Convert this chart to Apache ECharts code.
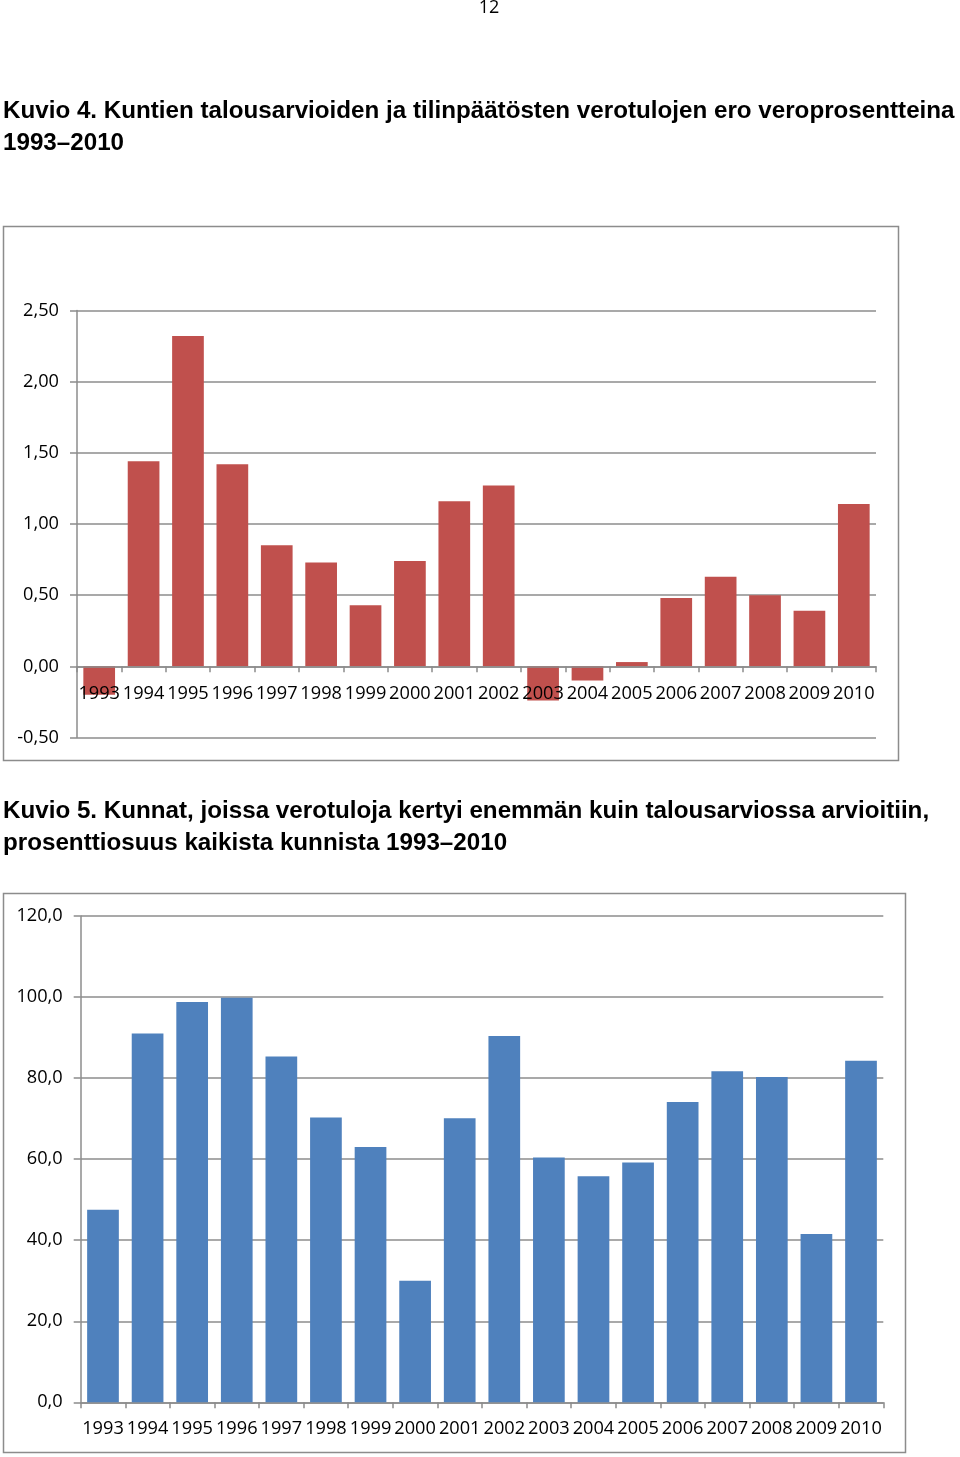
<!DOCTYPE html>
<html>
<head>
<meta charset="utf-8">
<script src="https://cdn.jsdelivr.net/npm/echarts@6/dist/echarts.min.js"></script>
<style>
html,body{margin:0;padding:0;background:#fff;}
#c{width:960px;height:1457px;}
</style>
</head>
<body>
<div id="c"></div>
<script>
const years = ['1993','1994','1995','1996','1997','1998','1999','2000','2001','2002','2003','2004','2005','2006','2007','2008','2009','2010'];
const diffValues = [-0.20,1.44,2.32,1.42,0.85,0.73,0.43,0.74,1.16,1.27,-0.24,-0.10,0.03,0.48,0.63,0.50,0.39,1.14];
const shareValues = [47.5,91.0,98.8,99.8,85.3,70.3,63.0,30.0,70.1,90.4,60.4,55.8,59.2,74.1,81.7,80.3,41.5,84.3];
const title1 = ['Kuvio 4. Kuntien talousarvioiden ja tilinpäätösten verotulojen ero veroprosentteina', '1993–2010'];
const title2 = ['Kuvio 5. Kunnat, joissa verotuloja kertyi enemmän kuin talousarviossa arvioitiin,', 'prosenttiosuus kaikista kunnista 1993–2010'];
const pageNumber = '12';

const GRAY = '#8c8c8c';
const LBL = {color:'#000', fontFamily:'Open Sans', fontSize:18.2};
const TFONT = 'bold 24.2px "Liberation Sans", Arial, sans-serif';

const y1Min = -0.5, y1Max = 2.5, grid1H = 427;
const zeroOffset1 = -(0 - y1Min) / (y1Max - y1Min) * grid1H;

const chart = echarts.init(document.getElementById('c'));

function txt(t, x, y, font, align){
  return {type:'text', x:x, y:y, silent:true,
    style:{text:t, font:font, fill:'#000', align:align||'left', verticalAlign:'middle'}};
}

const option = {
  animation:false,
  backgroundColor:'#fff',
  graphic:[
    txt(pageNumber, 489, 8, '18px "Open Sans", sans-serif', 'center'),
    txt(title1[0], 3, 111, TFONT),
    txt(title1[1], 3, 143, TFONT),
    txt(title2[0], 3, 811, TFONT),
    txt(title2[1], 3, 843, TFONT),
    {type:'rect', silent:true, shape:{x:3.5, y:226.5, width:895, height:534},
      style:{fill:'none', stroke:GRAY, lineWidth:1.5}},
    {type:'rect', silent:true, shape:{x:3.5, y:893.5, width:902, height:559},
      style:{fill:'none', stroke:GRAY, lineWidth:1.5}}
  ],
  grid:[
    {left:77, right:84, top:310.5, height:grid1H, containLabel:false},
    {left:80.7, right:76.7, top:916, height:486.3, containLabel:false}
  ],
  xAxis:[
    {type:'category', gridIndex:0, data:years, offset:zeroOffset1, z:5,
      axisLine:{onZero:false, lineStyle:{color:GRAY, width:1.5}},
      axisTick:{show:true, inside:false, length:6, alignWithLabel:false, lineStyle:{color:GRAY, width:1.5}},
      axisLabel:Object.assign({margin:18, interval:0}, LBL)},
    {type:'category', gridIndex:1, data:years,
      axisLine:{lineStyle:{color:GRAY, width:1.5}},
      axisTick:{show:true, inside:false, length:6, alignWithLabel:false, lineStyle:{color:GRAY, width:1.5}},
      axisLabel:Object.assign({margin:18, interval:0}, LBL)}
  ],
  yAxis:[
    {type:'value', gridIndex:0, min:y1Min, max:y1Max, interval:0.5,
      axisLine:{show:true, lineStyle:{color:GRAY, width:1.5}},
      axisTick:{show:true, length:7, lineStyle:{color:GRAY, width:1.5}},
      splitLine:{show:true, lineStyle:{color:GRAY, width:1.5}},
      axisLabel:Object.assign({margin:18, formatter:v=>v.toFixed(2).replace('.',',')}, LBL)},
    {type:'value', gridIndex:1, min:0, max:120, interval:20,
      axisLine:{show:true, lineStyle:{color:GRAY, width:1.5}},
      axisTick:{show:true, length:7, lineStyle:{color:GRAY, width:1.5}},
      splitLine:{show:true, lineStyle:{color:GRAY, width:1.5}},
      axisLabel:Object.assign({margin:18, formatter:v=>v.toFixed(1).replace('.',',')}, LBL)}
  ],
  series:[
    {type:'bar', xAxisIndex:0, yAxisIndex:0, data:diffValues, barWidth:31.7,
      itemStyle:{color:'#C0504D'}},
    {type:'bar', xAxisIndex:1, yAxisIndex:1, data:shareValues, barWidth:31.7,
      itemStyle:{color:'#4F81BD'}}
  ]
};
chart.setOption(option);
</script>
</body>
</html>
